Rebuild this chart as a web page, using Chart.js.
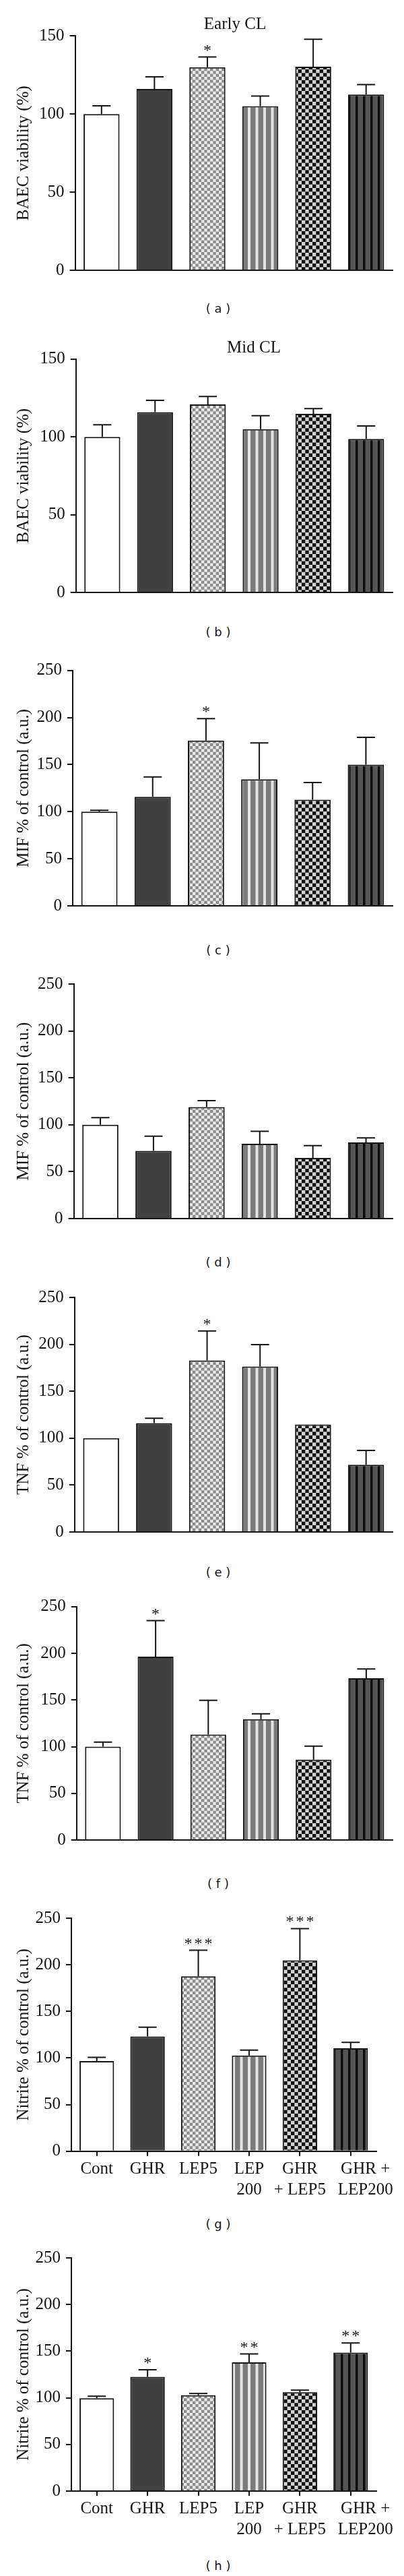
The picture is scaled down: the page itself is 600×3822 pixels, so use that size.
<!DOCTYPE html>
<html><head><meta charset="utf-8">
<script src="https://cdn.jsdelivr.net/npm/chart.js@4.4.1/dist/chart.umd.min.js"></script>
<style>
html,body{margin:0;padding:0;background:#fff;}
body{width:600px;height:3822px;position:relative;overflow:hidden;}
canvas{position:absolute;left:0;display:block;}
.t{position:absolute;font-family:"Liberation Serif","Times New Roman",serif;font-size:25px;line-height:25px;color:#151515;white-space:nowrap;transform:translate(-50%,-50%);}
.p{position:absolute;font-family:"DejaVu Sans",sans-serif;font-size:18px;line-height:18px;color:#151515;white-space:pre;transform:translate(-50%,-50%);}
</style></head><body>
<script>
// ---- data ----
const categories = ['Cont', 'GHR', 'LEP5', 'LEP 200', 'GHR + LEP5', 'GHR + LEP200'];
const xTickLabels = [['Cont'], ['GHR'], ['LEP5'], ['LEP', '200'], ['GHR', '+ LEP5'], ['GHR +', 'LEP200']];
const yTicksViability = [0, 50, 100, 150];
const yTicksPercent = [0, 50, 100, 150, 200, 250];
const panelTitles = ['Early CL', 'Mid CL'];
const panelLetters = ['(a)', '(b)', '(c)', '(d)', '(e)', '(f)', '(g)', '(h)'];

const earlyViability    = [100, 116, 130, 105, 130.3, 112.5];
const earlyViabilityErr = [105.3, 123.8, 136.5, 111.5, 147.9, 118.8];
const earlyViabilitySig = ['', '', '*', '', '', ''];

const midViability    = [100, 115.9, 120.8, 104.9, 114.8, 98.7];
const midViabilityErr = [107.7, 123.5, 125.9, 113.6, 118.1, 107];
const midViabilitySig = ['', '', '', '', '', ''];

const mifEarly    = [100, 115.7, 175.6, 134.3, 112.7, 150];
const mifEarlyErr = [101.4, 136.9, 198.8, 173, 130.9, 179];
const mifEarlySig = ['', '', '*', '', '', ''];

const mifMid    = [100, 72.2, 118.9, 79.8, 64.6, 81.2];
const mifMidErr = [107.6, 87.8, 125.8, 93, 77.8, 86];
const mifMidSig = ['', '', '', '', '', ''];

const tnfEarly    = [100, 116, 182.9, 176.4, 114.6, 71.7];
const tnfEarlyErr = [100, 121.2, 214.3, 199.8, 114.6, 87];
const tnfEarlySig = ['', '', '*', '', '', ''];

const tnfMid    = [100, 196.5, 113, 129.5, 86.1, 173.3];
const tnfMidErr = [104.9, 235, 149.7, 135.3, 100.5, 183.3];
const tnfMidSig = ['', '*', '', '', '', ''];

const nitriteEarly    = [96.7, 123, 187.6, 102.7, 204.8, 110.5];
const nitriteEarlyErr = [100.6, 133.1, 215.6, 108.5, 238.8, 116.8];
const nitriteEarlySig = ['', '', '***', '', '***', ''];

const nitriteMid    = [99.5, 122.4, 102.7, 138, 106, 148.4];
const nitriteMidErr = [101.7, 130.1, 104.6, 147, 108.2, 158.8];
const nitriteMidSig = ['', '*', '', '**', '', '**'];

// ---- styling / layout ----
const INK = '#151515';
const SERIF = '"Liberation Serif", "Times New Roman", serif';

function pat(w, h, draw) {
  const c = document.createElement('canvas'); c.width = w; c.height = h;
  const g = c.getContext('2d'); draw(g, w, h);
  return g.createPattern(c, 'repeat');
}
function checker(size, n, a, b) {
  return pat(size, size, (g) => {
    const s = size / n;
    g.fillStyle = b; g.fillRect(0, 0, size, size);
    g.fillStyle = a;
    for (let r = 0; r < n; r++) for (let c = 0; c < n; c++) if ((r + c) % 2 === 0) g.fillRect(c * s, r * s, s, s);
  });
}
function stripes(period, thin, base, line) {
  const w = period * 2;
  return pat(w, 4, (g) => {
    g.fillStyle = base; g.fillRect(0, 0, w, 4);
    g.fillStyle = line;
    g.fillRect(0, 0, thin, 4); g.fillRect(period, 0, thin, 4);
  });
}
const fills = [
  '#ffffff',
  '#404040',
  checker(26, 6, '#8a8a8a', '#e9e9e9'),
  stripes(11.5, 4, '#7b7b7b', '#e4e4e4'),
  checker(32, 6, '#0e0e0e', '#d3d3d3'),
  stripes(11, 3.5, '#555555', '#0e0e0e')
];

function errorBarPlugin(vals, err, sig) {
  return {
    id: 'errorBars',
    afterDatasetsDraw(chart) {
      const ctx = chart.ctx, y = chart.scales.y;
      const meta = chart.getDatasetMeta(0);
      ctx.save();
      ctx.strokeStyle = INK; ctx.fillStyle = INK; ctx.lineWidth = 2;
      meta.data.forEach((bar, i) => {
        const x = bar.x;
        const yv = y.getPixelForValue(vals[i]);
        const ye = y.getPixelForValue(err[i]);
        if (err[i] > vals[i]) {
          ctx.beginPath();
          ctx.moveTo(x, yv); ctx.lineTo(x, ye);
          ctx.moveTo(x - 13.5, ye); ctx.lineTo(x + 13.5, ye);
          ctx.stroke();
        }
        if (sig[i]) {
          ctx.font = '24px ' + SERIF;
          ctx.textAlign = 'center'; ctx.textBaseline = 'alphabetic';
          ctx.letterSpacing = '3px';
          ctx.fillText(sig[i], x + 1.5, ye - 3);
        }
      });
      ctx.restore();
    }
  };
}

const panels = [
  {vals: earlyViability, err: earlyViabilityErr, sig: earlyViabilitySig, yt: yTicksViability, ylabel: 'BAEC viability (%)', axisX: 111.5, top: 53.3, bottom: 413.3, right: 583, xl: false},
  {vals: midViability, err: midViabilityErr, sig: midViabilitySig, yt: yTicksViability, ylabel: 'BAEC viability (%)', axisX: 112.7, top: 532.7, bottom: 891.7, right: 583, xl: false},
  {vals: mifEarly, err: mifEarlyErr, sig: mifEarlySig, yt: yTicksPercent, ylabel: 'MIF % of control (a.u.)', axisX: 108, top: 994.7, bottom: 1356.3, right: 583, xl: false},
  {vals: mifMid, err: mifMidErr, sig: mifMidSig, yt: yTicksPercent, ylabel: 'MIF % of control (a.u.)', axisX: 109.6, top: 1460, bottom: 1821, right: 583, xl: false},
  {vals: tnfEarly, err: tnfEarlyErr, sig: tnfEarlySig, yt: yTicksPercent, ylabel: 'TNF % of control (a.u.)', axisX: 110.8, top: 1925, bottom: 2285.3, right: 583, xl: false},
  {vals: tnfMid, err: tnfMidErr, sig: tnfMidSig, yt: yTicksPercent, ylabel: 'TNF % of control (a.u.)', axisX: 113.8, top: 2383.8, bottom: 2742.7, right: 583, xl: false},
  {vals: nitriteEarly, err: nitriteEarlyErr, sig: nitriteEarlySig, yt: yTicksPercent, ylabel: 'Nitrite % of control (a.u.)', axisX: 106, top: 2846, bottom: 3191.7, right: 558.5, xl: true},
  {vals: nitriteMid, err: nitriteMidErr, sig: nitriteMidSig, yt: yTicksPercent, ylabel: 'Nitrite % of control (a.u.)', axisX: 106, top: 3350, bottom: 3696, right: 558.5, xl: true}
];

const lastLabelPad = '       ';

panels.forEach((p) => {
  const topPad = 30;
  const bottomH = p.xl ? 80 : 10;
  const cTop = Math.floor(p.top) - topPad;
  const padTop = p.top - cTop;
  const cH = Math.ceil(p.bottom - cTop + bottomH);
  const xH = cH - (p.bottom - cTop);
  const canvas = document.createElement('canvas');
  canvas.width = 600; canvas.height = cH;
  canvas.style.top = cTop + 'px';
  document.body.appendChild(canvas);
  new Chart(canvas, {
    type: 'bar',
    data: {
      labels: categories,
      datasets: [{
        data: p.vals,
        backgroundColor: fills,
        borderColor: INK,
        borderWidth: 2,
        barPercentage: 0.68,
        categoryPercentage: 1
      }]
    },
    options: {
      responsive: false, animation: false, events: [],
      layout: {padding: {top: padTop, left: 0, right: 600 - p.right, bottom: 0}},
      plugins: {legend: {display: false}, tooltip: {enabled: false}, title: {display: false}},
      scales: {
        x: {
          type: 'category',
          offset: true,
          ticks: p.xl ? {
            display: true, color: INK, maxRotation: 0, autoSkip: false, padding: 4,
            font: {family: SERIF, size: 25, lineHeight: 1.24},
            callback: (v, i) => i === 5 ? xTickLabels[i].map(s => lastLabelPad + s) : xTickLabels[i]
          } : {display: false},
          grid: {display: true, drawOnChartArea: false, drawTicks: p.xl, tickLength: 7, color: INK, lineWidth: 2, offset: false},
          border: {display: true, color: INK, width: 2},
          afterFit(s) { s.height = xH; }
        },
        y: {
          min: 0, max: p.yt[p.yt.length - 1],
          afterBuildTicks(s) { s.ticks = p.yt.map(v => ({value: v})); },
          ticks: {color: INK, padding: 8, font: {family: SERIF, size: 25}},
          grid: {display: true, drawOnChartArea: false, drawTicks: true, tickLength: 8, color: INK, lineWidth: 2},
          border: {display: true, color: INK, width: 2},
          title: {display: true, text: p.ylabel, color: INK, font: {family: SERIF, size: 25}, padding: {top: 20, bottom: 0}},
          afterFit(s) { s.width = p.axisX; }
        }
      }
    },
    plugins: [errorBarPlugin(p.vals, p.err, p.sig)]
  });
});

// titles and panel letters
const titlePos = [[349, 34], [377, 514]];
panelTitles.forEach((t, i) => {
  const d = document.createElement('div'); d.className = 't'; d.textContent = t;
  d.style.left = titlePos[i][0] + 'px'; d.style.top = titlePos[i][1] + 'px';
  document.body.appendChild(d);
});
const letterY = [458, 938, 1410, 1873, 2333, 2795, 3300, 3807];
panelLetters.forEach((t, i) => {
  const d = document.createElement('div'); d.className = 'p';
  d.textContent = t.replace('(', '( ').replace(')', ' )');
  d.style.left = '324px'; d.style.top = letterY[i] + 'px';
  document.body.appendChild(d);
});
</script>
</body></html>
